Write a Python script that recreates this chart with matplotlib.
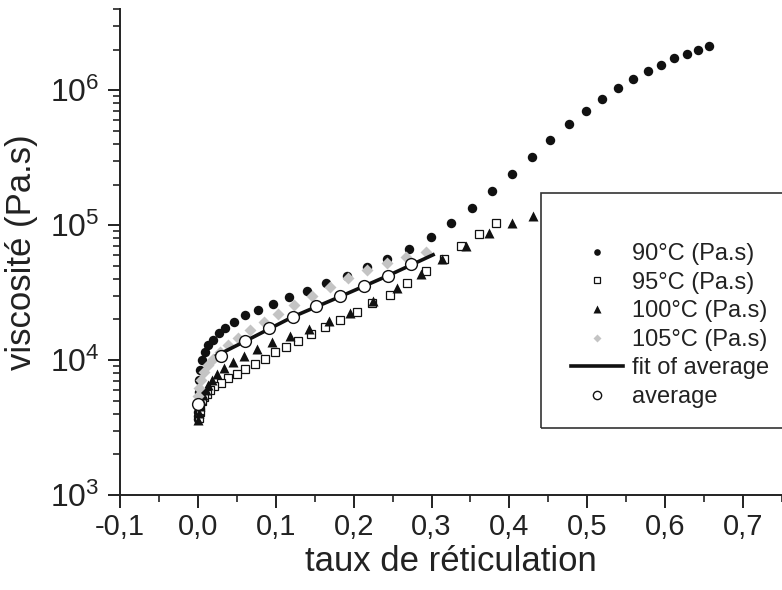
import numpy as np
import matplotlib
matplotlib.use('Agg')
import matplotlib.pyplot as plt
from matplotlib.ticker import FuncFormatter, LogLocator, MultipleLocator
from matplotlib.patches import Rectangle

plt.rcParams['font.family'] = ['Liberation Sans', 'DejaVu Sans']
plt.rcParams['mathtext.default'] = 'regular'

# données (taux de réticulation, viscosité en Pa.s)
x_90 = [0.6565, 0.6424, 0.6275, 0.6112, 0.5945, 0.5774, 0.5589, 0.5393, 0.5191, 0.4978,
        0.4760, 0.4524, 0.4285, 0.4036, 0.3779, 0.3519, 0.3249, 0.2988, 0.2710, 0.2431,
        0.2175, 0.1910, 0.1641, 0.1397, 0.1173, 0.0968, 0.0775, 0.0609, 0.0467, 0.0352,
        0.0267, 0.0198, 0.0136, 0.0085, 0.0053, 0.0027, 0.0014, 0.0008, 0.0005, 0.0004,
        0.0003, 0.0002]
v_90 = [2.14e6, 2.00e6, 1.87e6, 1.72e6, 1.55e6, 1.38e6, 1.21e6, 1.03e6, 8.63e5, 7.02e5,
        5.58e5, 4.26e5, 3.22e5, 2.41e5, 1.79e5, 1.35e5, 1.04e5, 8.20e4, 6.65e4, 5.61e4,
        4.86e4, 4.23e4, 3.71e4, 3.27e4, 2.92e4, 2.62e4, 2.36e4, 2.14e4, 1.91e4, 1.73e4,
        1.58e4, 1.42e4, 1.29e4, 1.14e4, 9.95e3, 8.39e3, 7.08e3, 5.77e3, 4.62e3, 4.10e3,
        3.85e3, 3.65e3]

x_95 = [0.3827, 0.3612, 0.3377, 0.3163, 0.2924, 0.2680, 0.2466, 0.2235, 0.2039, 0.1828,
        0.1628, 0.1452, 0.1285, 0.1131, 0.0990, 0.0858, 0.0729, 0.0608, 0.0498, 0.0390,
        0.0293, 0.0211, 0.0155, 0.0113, 0.0078, 0.0053, 0.0033, 0.0021, 0.0012]
v_95 = [1.03e5, 8.59e4, 6.97e4, 5.61e4, 4.55e4, 3.71e4, 3.04e4, 2.67e4, 2.26e4, 1.99e4,
        1.75e4, 1.56e4, 1.38e4, 1.25e4, 1.14e4, 1.02e4, 9.40e3, 8.57e3, 7.93e3, 7.33e3,
        6.81e3, 6.43e3, 5.97e3, 5.65e3, 5.30e3, 4.95e3, 4.55e3, 4.10e3, 3.71e3]

x_100 = [0.4302, 0.4028, 0.3737, 0.3442, 0.3137, 0.2864, 0.2552, 0.2252, 0.1953, 0.1687,
         0.1422, 0.1182, 0.0955, 0.0759, 0.0596, 0.0451, 0.0339, 0.0249, 0.0177, 0.0134,
         0.0098, 0.0065, 0.0040, 0.0021, 0.0008, 0.0004]
v_100 = [1.17e5, 1.04e5, 8.75e4, 7.05e4, 5.61e4, 4.36e4, 3.43e4, 2.72e4, 2.24e4, 1.96e4,
         1.71e4, 1.52e4, 1.36e4, 1.20e4, 1.07e4, 9.72e3, 8.79e3, 7.93e3, 7.16e3, 6.50e3,
         5.97e3, 5.48e3, 5.04e3, 4.55e3, 4.04e3, 3.58e3]

x_105 = [0.2924, 0.2668, 0.2424, 0.2175, 0.1923, 0.1696, 0.1461, 0.1234, 0.1032, 0.0849,
         0.0669, 0.0519, 0.0390, 0.0284, 0.0198, 0.0134, 0.0078, 0.0040, 0.0014, 0.0001]
v_105 = [6.28e4, 5.77e4, 5.25e4, 4.66e4, 4.04e4, 3.51e4, 2.99e4, 2.58e4, 2.20e4, 1.91e4,
         1.66e4, 1.46e4, 1.29e4, 1.15e4, 1.02e4, 9.14e3, 8.11e3, 7.08e3, 6.18e3, 5.40e3]

x_avg = [0.0, 0.0297, 0.0608, 0.0913, 0.1217, 0.1516, 0.1824, 0.2132, 0.2444, 0.2740]
v_avg = [4.71e3, 1.07e4, 1.39e4, 1.73e4, 2.10e4, 2.51e4, 2.97e4, 3.52e4, 4.23e4, 5.15e4]

x_fit = [0.024, 0.0608, 0.1217, 0.1824, 0.2444, 0.302]
v_fit = [1.08e4, 1.38e4, 2.09e4, 2.95e4, 4.23e4, 6.03e4]

fig = plt.figure(figsize=(7.82, 5.90), dpi=100)
ax = fig.add_axes([120 / 782, 95 / 590, 662 / 782, 486 / 590])

ax.plot(x_90, v_90, 'o', color='#111111', ms=6.8, mec='none', label='90°C (Pa.s)')
ax.plot(x_95, v_95, 's', mfc='white', mec='#111111', mew=0.9, ms=5.2, label='95°C (Pa.s)')
ax.plot(x_100, v_100, '^', color='#111111', ms=7.5, mec='none', label='100°C (Pa.s)')
ax.plot(x_105, v_105, 'D', color='#c4c4c4', ms=6, mec='none', label='105°C (Pa.s)')
ax.plot(x_fit, v_fit, '-', color='#111111', lw=2.6, label='fit of average')
ax.plot(x_avg, v_avg, 'o', mfc='white', mec='#111111', mew=1.0, ms=8.5, label='average')

ax.set_yscale('log')
ax.set_xlim(-0.1, 0.75)
ax.set_ylim(1e3, 4e6)

for s in ['top', 'right']:
    ax.spines[s].set_visible(False)
for s in ['left', 'bottom']:
    ax.spines[s].set_linewidth(1.4)
    ax.spines[s].set_color('#222222')

ax.xaxis.set_major_locator(MultipleLocator(0.1))
ax.xaxis.set_minor_locator(MultipleLocator(0.05))
ax.xaxis.set_major_formatter(FuncFormatter(lambda v, p: ('%.1f' % v).replace('.', ',')))
ax.yaxis.set_major_locator(LogLocator(base=10, numticks=10))
ax.yaxis.set_minor_locator(LogLocator(base=10, subs=np.arange(2, 10), numticks=20))
ax.yaxis.set_minor_formatter(FuncFormatter(lambda v, p: ''))
ax.yaxis.set_major_formatter(FuncFormatter(lambda v, p: r'$10^{%d}$' % round(np.log10(v))))

ax.tick_params(which='major', direction='out', length=9, width=1.4, colors='#222222',
               labelsize=21, labelcolor='#222222')
ax.tick_params(which='minor', direction='out', length=5, width=1.2, colors='#222222')
ax.tick_params(axis='x', which='major', pad=4)
ax.tick_params(axis='y', which='major', labelsize=23, pad=6)

ax.set_xlabel('taux de réticulation', fontsize=25, color='#222222', labelpad=3)
ax.set_ylabel('viscosité (Pa.s)', fontsize=25, color='#222222', labelpad=8)

# cadre de la légende
fig.patches.append(Rectangle((541 / 782, 1 - 428 / 590), 260 / 782, 235 / 590,
                             transform=fig.transFigure, fill=False,
                             edgecolor='#333333', lw=1.2))
leg = ax.legend(loc='upper left', bbox_to_anchor=(571 / 782, 1 - 243 / 590),
                bbox_transform=fig.transFigure, frameon=False, fontsize=17,
                markerscale=0.7, handlelength=2.2, handletextpad=0.4,
                labelspacing=0.28, borderpad=0, borderaxespad=0)
for t in leg.get_texts():
    t.set_color('#222222')

plt.savefig('out.png', dpi=100)
